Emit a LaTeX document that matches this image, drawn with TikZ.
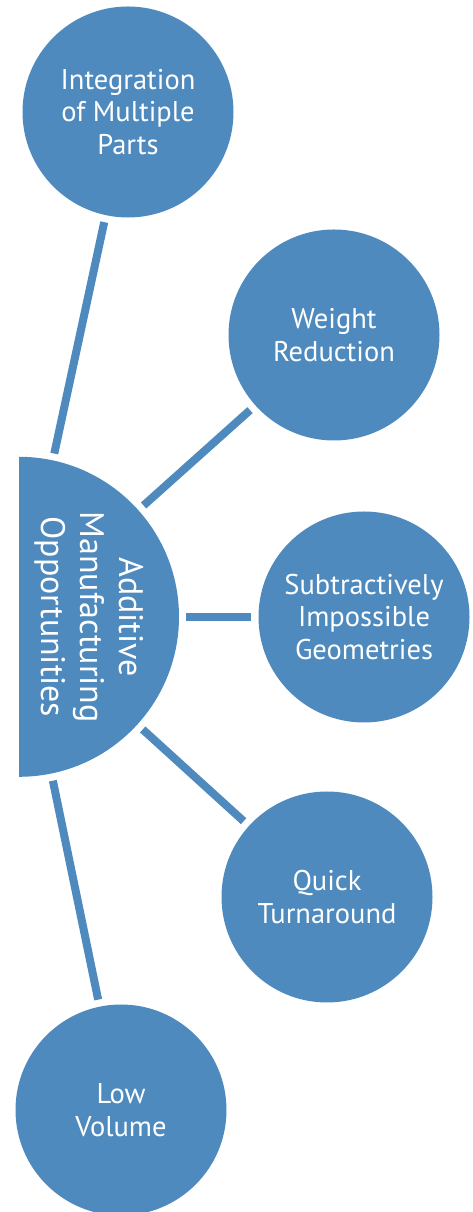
\documentclass[tikz,border=0pt]{standalone}
\usepackage{fontspec}
\setmainfont{PT Sans}
\definecolor{amblue}{HTML}{4E8ABE}
\begin{document}
\begin{tikzpicture}[x=1pt,y=1pt,
  bubble/.style={circle,fill=amblue,minimum size=211pt,inner sep=0pt,text=white,align=center,font=\fontsize{28.5}{32.5}\selectfont},
  link/.style={draw=amblue,line width=8pt,shorten >=7pt,shorten <=7pt},
  hubtext/.style={text=white,align=center,rotate=-90,font=\fontsize{34}{39}\selectfont}]
\useasboundingbox (0,0) rectangle (473,1212);
\node[circle,minimum size=320pt,inner sep=0pt] (hub) at (19,595) {};
\fill[amblue] (hub.north) arc[start angle=90,end angle=-90,radius=160pt] -- cycle;
\node[hubtext] (hubt) at (89,595) {Additive\\Manufacturing\\Opportunities};
\node[bubble] (c1) at (128,1100) {Integration\\of Multiple\\Parts};
\node[bubble] (c2) at (334,877) {Weight\\Reduction};
\node[bubble] (c3) at (364,595) {Subtractively\\Impossible\\Geometries};
\node[bubble] (c4) at (327,315) {Quick\\Turnaround};
\node[bubble] (c5) at (121,102) {Low\\Volume};
\foreach \t in {c1,c2,c3,c4,c5} \draw[link] (hub) -- (\t);
\end{tikzpicture}
\end{document}
